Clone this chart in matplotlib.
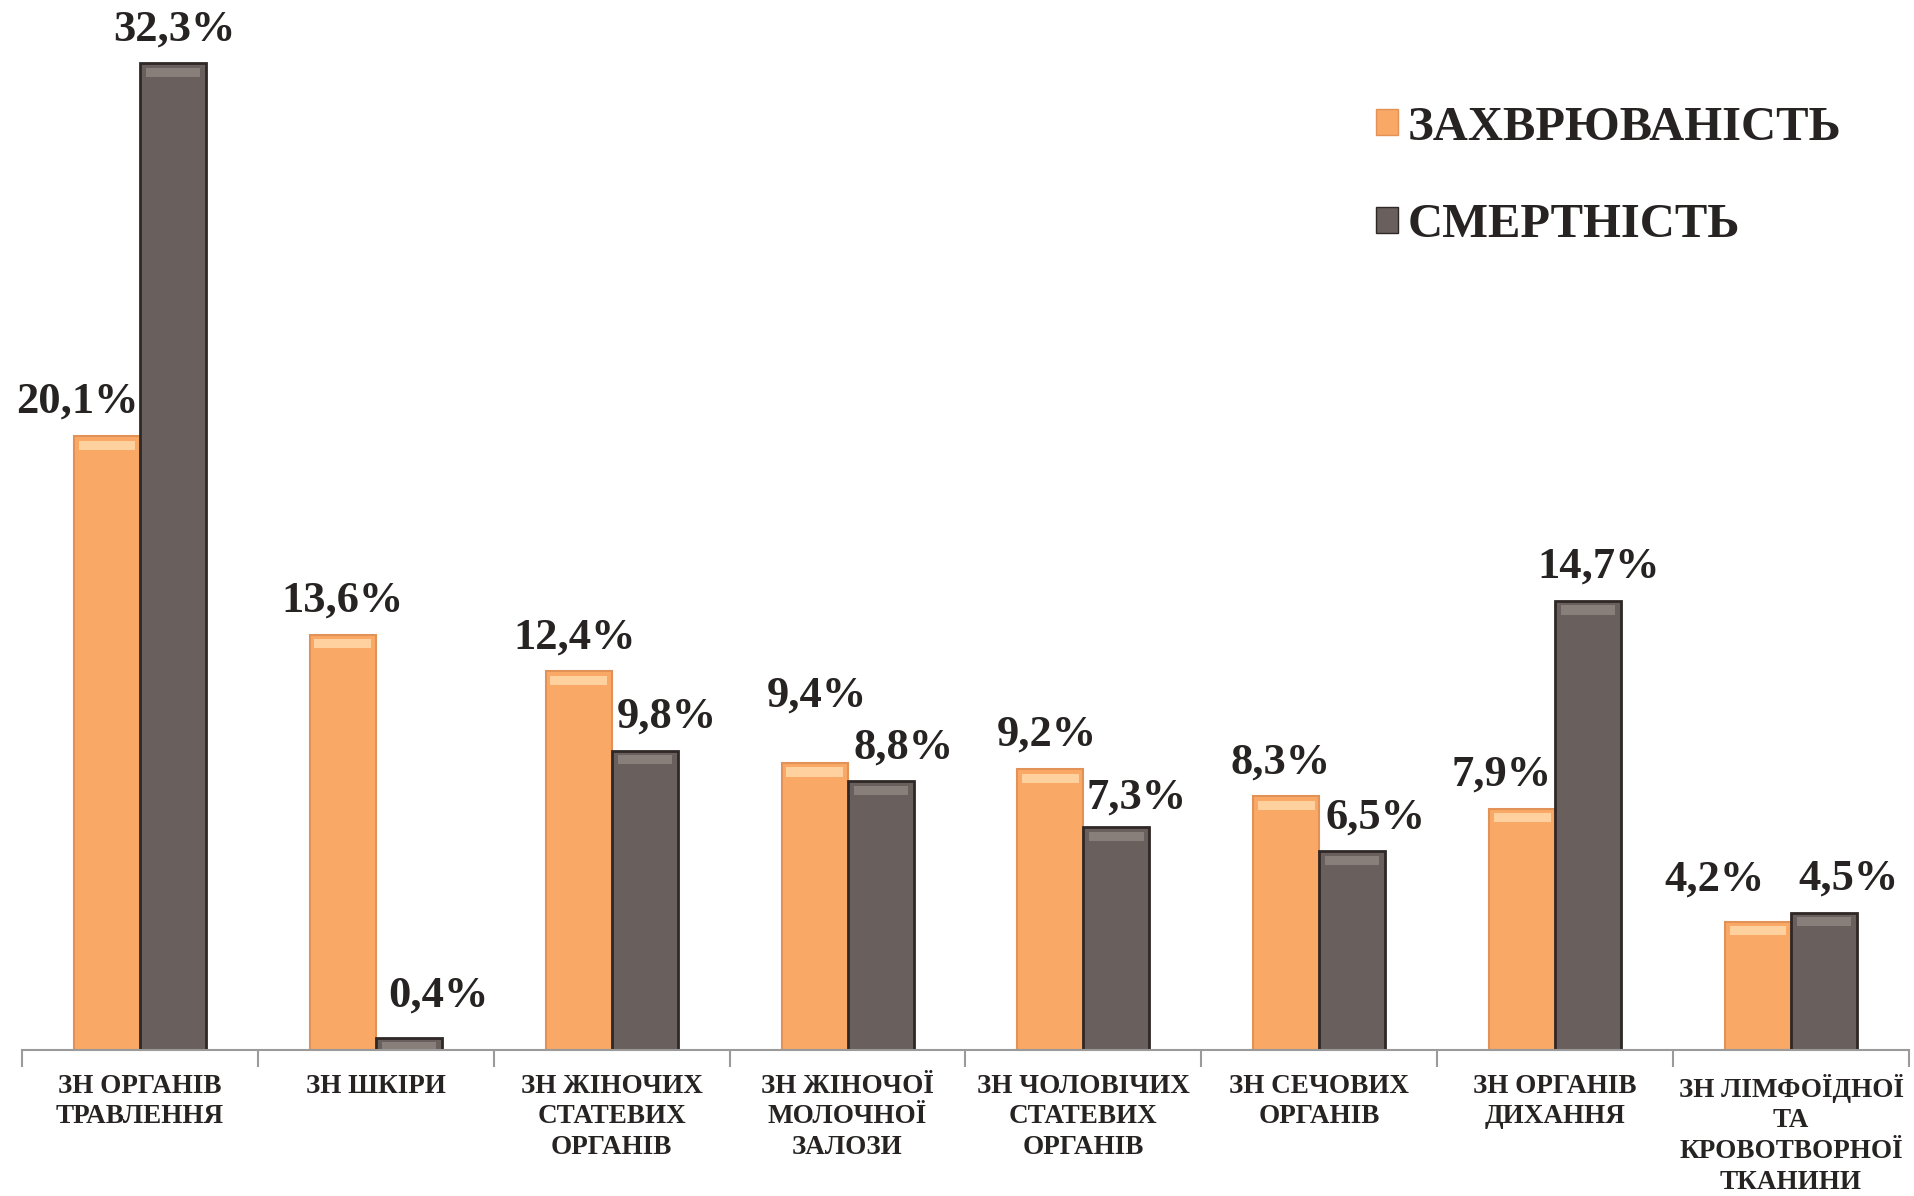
import numpy as np
import matplotlib.pyplot as plt
from matplotlib.patches import Patch

categories = [
    "ЗН ОРГАНІВ\nТРАВЛЕННЯ",
    "ЗН ШКІРИ",
    "ЗН ЖІНОЧИХ\nСТАТЕВИХ\nОРГАНІВ",
    "ЗН ЖІНОЧОЇ\nМОЛОЧНОЇ\nЗАЛОЗИ",
    "ЗН ЧОЛОВІЧИХ\nСТАТЕВИХ\nОРГАНІВ",
    "ЗН СЕЧОВИХ\nОРГАНІВ",
    "ЗН ОРГАНІВ\nДИХАННЯ",
    "ЗН ЛІМФОЇДНОЇ\nТА\nКРОВОТВОРНОЇ\nТКАНИНИ",
]
incidence = [20.1, 13.6, 12.4, 9.4, 9.2, 8.3, 7.9, 4.2]
mortality = [32.3, 0.4, 9.8, 8.8, 7.3, 6.5, 14.7, 4.5]
series_names = ["ЗАХВРЮВАНІСТЬ", "СМЕРТНІСТЬ"]

# label nudges (pixels), the original chart shifts some labels around
inc_dx = [-30, 0, -4, 2, -4, -6, -21, -44]
inc_dy = [14, 14, 14, 47, 14, 14, 14, 22]
mor_dx = [1, 30, 22, 23, 20, 23, 10, 24]
mor_dy = [14, 22, 14, 14, 9, 14, 14, 14]

ORANGE = "#F9A865"
ORANGE_EDGE = "#E39257"
ORANGE_TOP = "#FFD6A6"
DARK = "#695F5C"
DARK_EDGE = "#2E2826"
DARK_TOP = "#8C837F"
TXT = "#262322"
SERIF = ["Liberation Serif", "DejaVu Serif"]
NARROW = ["DejaVu Serif Condensed", "Liberation Serif"]

fig = plt.figure(figsize=(19.15, 11.96), dpi=100)
ax = fig.add_axes([22 / 1915, 1 - 1050 / 1196, (1909 - 22) / 1915, 1050 / 1196])

x = np.arange(len(categories))
w = 0.28
ax.bar(x - 0.14, incidence, w, color=ORANGE, edgecolor=ORANGE_EDGE, linewidth=1.5)
ax.bar(x + 0.14, mortality, w, color=DARK, edgecolor=DARK_EDGE, linewidth=2)

# light bevel band near the top of each bar
ax.bar(x - 0.14, 0.3, w * 0.86, bottom=np.array(incidence) - 0.45,
       color=ORANGE_TOP, linewidth=0, alpha=0.9)
ax.bar(x + 0.14, 0.3, w * 0.82, bottom=np.array(mortality) - 0.45,
       color=DARK_TOP, linewidth=0, alpha=0.9)

for i in range(len(x)):
    ax.annotate(f"{incidence[i]:.1f}%".replace(".", ","), (x[i] - 0.14, incidence[i]),
                xytext=(inc_dx[i], inc_dy[i]), textcoords="offset pixels",
                ha="center", va="bottom", fontsize=32, fontweight="bold",
                family=SERIF, color=TXT)
    ax.annotate(f"{mortality[i]:.1f}%".replace(".", ","), (x[i] + 0.14, mortality[i]),
                xytext=(mor_dx[i], mor_dy[i]), textcoords="offset pixels",
                ha="center", va="bottom", fontsize=32, fontweight="bold",
                family=SERIF, color=TXT)

ax.set_xlim(-0.5, len(x) - 0.5)
ax.set_ylim(0, 34.37)
ax.set_yticks([])
for s in ["top", "left", "right"]:
    ax.spines[s].set_visible(False)
ax.spines["bottom"].set_color("#9A9A9A")
ax.spines["bottom"].set_linewidth(1.5)

ax.set_xticks(x)
ax.set_xticklabels(categories, fontsize=19.5, fontweight="bold", family=NARROW,
                   color=TXT, linespacing=1.3, va="top")
ax.tick_params(axis="x", which="major", length=0, pad=17)
ax.set_xticks(np.arange(-0.5, len(x)), minor=True)
ax.tick_params(axis="x", which="minor", length=12, width=1.5, color="#9A9A9A")

handles = [Patch(facecolor=ORANGE, edgecolor=ORANGE_EDGE),
           Patch(facecolor=DARK, edgecolor=DARK_EDGE)]
leg = ax.legend(handles, series_names, loc="upper left",
                bbox_to_anchor=(1332 / 1915, 1 - 62 / 1196), bbox_transform=fig.transFigure,
                frameon=False, handlelength=0.45, handleheight=0.45, handletextpad=0.2,
                labelspacing=1.1, prop={"family": SERIF, "weight": "bold", "size": 35})
for t in leg.get_texts():
    t.set_color(TXT)

fig.savefig("out.png", dpi=100)
